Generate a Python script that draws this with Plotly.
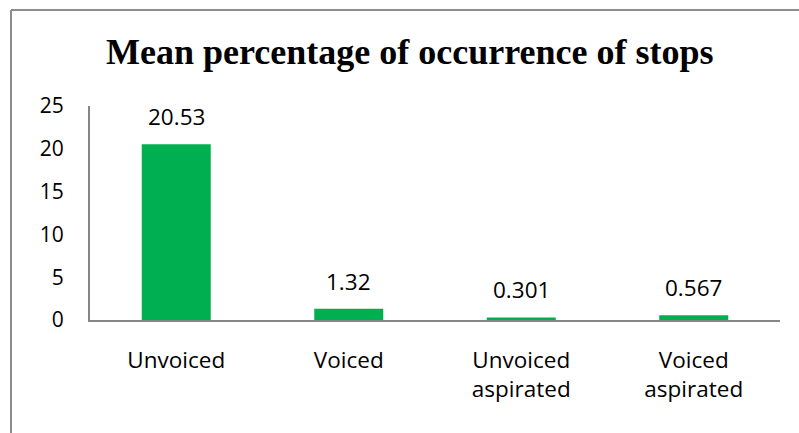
import plotly.graph_objects as go

categories = ["Unvoiced", "Voiced", "Unvoiced<br>aspirated", "Voiced<br>aspirated"]
values = [20.53, 1.32, 0.301, 0.567]
value_labels = ["20.53", "1.32", "0.301", "0.567"]
y_ticks = [0, 5, 10, 15, 20, 25]

W, H = 799, 433
L, R, T, B = 90, 19, 106, 113
pw, ph = W - L - R, H - T - B

fig = go.Figure()
fig.add_trace(go.Bar(x=categories, y=values, marker=dict(color="#00B050", line=dict(width=0)),
                     cliponaxis=False))

annotations = []
for c, v, t in zip(categories, values, value_labels):
    annotations.append(dict(x=c, y=v, text=t, showarrow=False, yanchor="bottom", yshift=10,
                            font=dict(family="Open Sans", size=22.5, color="#000")))
annotations.append(dict(x=(410 - L) / pw, xref="paper", y=1 + (T - 52) / ph, yref="paper",
                        text="<b>Mean percentage of occurrence of stops</b>", showarrow=False,
                        xanchor="center", yanchor="middle",
                        font=dict(family="Liberation Serif", size=36, color="#000")))

shapes = [
    dict(type="line", xref="paper", yref="paper", x0=(11 - L) / pw, x1=(11 - L) / pw,
         y0=1 + (T - 10) / ph, y1=-(B + 5) / ph, line=dict(color="#8C8C8C", width=2)),
    dict(type="line", xref="paper", yref="paper", x0=(11 - L) / pw, x1=(W + 5 - L) / pw,
         y0=1 + (T - 10) / ph, y1=1 + (T - 10) / ph, line=dict(color="#8C8C8C", width=2)),
]

fig.update_layout(
    width=W, height=H, margin=dict(l=L, r=R, t=T, b=B),
    paper_bgcolor="white", plot_bgcolor="white",
    bargap=0.6, showlegend=False,
    annotations=annotations, shapes=shapes,
    font=dict(family="Open Sans", size=21, color="#000"),
    xaxis=dict(showline=True, linecolor="#868686", linewidth=2, ticks="outside", ticklen=19,
               tickcolor="rgba(0,0,0,0)", tickfont=dict(size=22.5), showgrid=False),
    yaxis=dict(range=[0, 25], tickvals=y_ticks, showline=True, linecolor="#868686", linewidth=2,
               ticks="outside", ticklen=20, tickcolor="rgba(0,0,0,0)", showgrid=False,
               zeroline=False, tickfont=dict(size=21)),
)

fig.write_html("out.html", config={"displayModeBar": False},
               post_script="document.body.style.margin='0';document.body.style.overflow='hidden';")
